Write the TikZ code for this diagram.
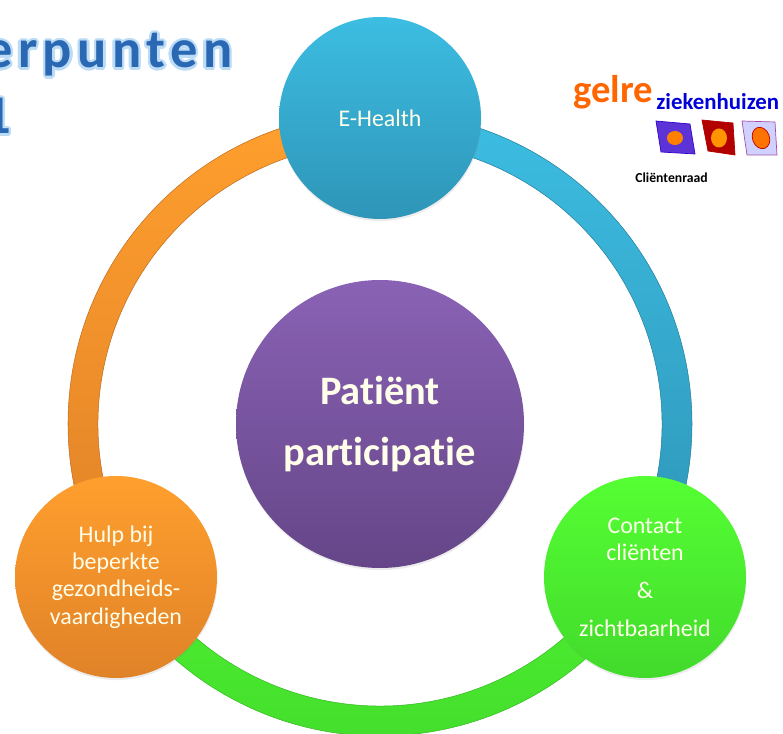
\documentclass[tikz,border=0pt]{standalone}
\usepackage{fontspec}
\usepackage{contour}
\setmainfont{Carlito}[Ligatures=NoCommon]
\usetikzlibrary{shadows}
\definecolor{bluetop}{HTML}{3CBDE2}
\definecolor{bluebot}{HTML}{2E95B7}
\definecolor{orangetop}{HTML}{FF9F2E}
\definecolor{orangebot}{HTML}{E08228}
\definecolor{greentop}{HTML}{55FF33}
\definecolor{greenbot}{HTML}{42DA2C}
\definecolor{purpletop}{HTML}{8A62B5}
\definecolor{purplebot}{HTML}{654688}
\definecolor{titleblue}{HTML}{2A68B4}
\definecolor{titleglow}{HTML}{BCDCF6}
\tikzset{
	bubble/.style={circle,minimum size=4.04cm,inner sep=0pt,align=center,text=white!92!yellow,font=\fontsize{13.6}{15.6}\selectfont,drop shadow={opacity=0.15,shadow xshift=0.3pt,shadow yshift=-1.2pt}},
	ringpart/.style={draw=#1!85!black,line width=0.3pt},
	titletext/.style={anchor=base west,inner sep=0pt,text=titleblue,font=\fontsize{31}{31}\selectfont\bfseries\addfontfeature{LetterSpace=10}},
}
\begin{document}
\begin{tikzpicture}
	\useasboundingbox (0,0) rectangle (15.66,14.68);
	\coordinate (ringmid) at (7.6,6.2);
	% ring
	\path[ringpart=orangebot,top color=orangetop,bottom color=orangebot] (ringmid)+(90:6.24) arc(90:210:6.24)--++(30:0.6) arc(210:90:5.64)--cycle;
	\path[ringpart=bluebot,top color=bluetop,bottom color=bluebot] (ringmid)+(90:6.24) arc(90:-30:6.24)--++(150:0.6) arc(-30:90:5.64)--cycle;
	\path[ringpart=greenbot,top color=greentop,bottom color=greenbot] (ringmid)+(-30:6.24) arc(-30:-150:6.24)--++(30:0.6) arc(-150:-30:5.64)--cycle;
	% circles
	\node[bubble,top color=bluetop,bottom color=bluebot] (ehealth) at (7.6,12.32) {E-Health};
	\node[bubble,top color=greentop,bottom color=greenbot] (contact) at (12.9,3.14) {Contact\\cliënten\\[6pt]\&\\[6pt]zichtbaarheid};
	\node[bubble,top color=orangetop,bottom color=orangebot] (hulp) at (2.32,3.14) {Hulp bij\\beperkte\\gezondheids-\\vaardigheden};
	\node[bubble,minimum size=5.76cm,top color=purpletop,bottom color=purplebot,font=\fontsize{23}{35}\selectfont\bfseries] (patient) at (7.6,6.2) {Patiënt\\participatie};
	% title
	\contourlength{1.4pt}
	\node[titletext] (titel) at (-0.3,13.32) {\contour{titleglow}{erpunten}};
	\node[titletext] (jaar) at (-0.34,12) {\contour{titleglow}{1}};
	% logo
	\node[anchor=base west,inner sep=0pt,text=orange!80!red,font=\fontsize{22}{22}\selectfont\bfseries] (gelre) at (11.46,12.62) {gelre};
	\node[anchor=base west,inner sep=0pt,text=blue!85!black,font=\fontsize{13}{13}\selectfont\bfseries] (ziekenhuizen) at (13.12,12.48) {ziekenhuizen};
	\node[inner sep=0pt,font=\fontsize{7.8}{9}\selectfont\bfseries] (raad) at (13.43,11.12) {Cliëntenraad};
	\draw[blue!60!violet,fill=blue!60!violet!80] (13.12,12.26)--(13.8,12.2)--(13.9,11.6)--(13.22,11.64)--cycle;
	\fill[orange] (13.5,11.92) ellipse(0.16 and 0.14);
	\draw[red!70!black,fill=red!70!black] (14.04,12.28)--(14.66,12.22)--(14.7,11.58)--(14.16,11.66)--cycle;
	\fill[orange!85!yellow] (14.38,11.92) ellipse(0.16 and 0.19);
	\draw[violet!70,fill=blue!18] (14.84,12.26)--(15.5,12.24)--(15.54,11.58)--(14.94,11.58)--cycle;
	\draw[red!75!black,fill=orange!90!red] (15.22,11.92) [rotate around={20:(15.22,11.92)}] ellipse(0.17 and 0.22);
\end{tikzpicture}
\end{document}
